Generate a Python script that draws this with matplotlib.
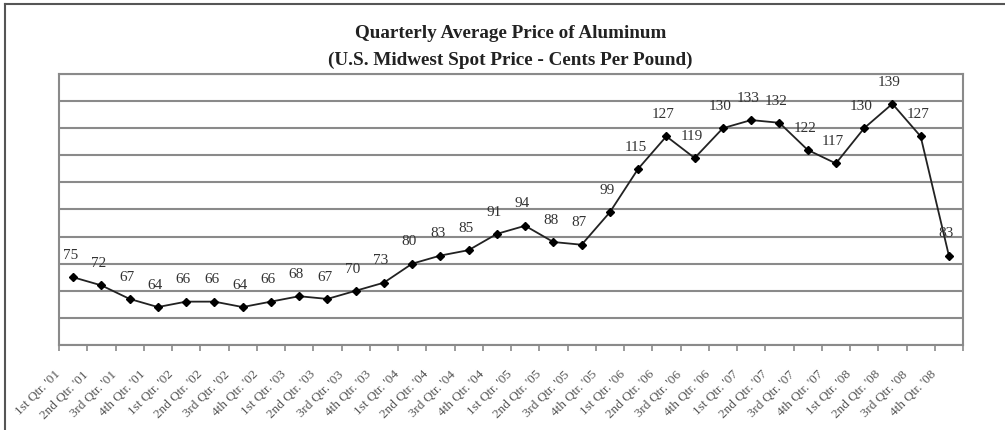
import numpy as np
import matplotlib.pyplot as plt
import matplotlib.transforms as mtransforms
from matplotlib.lines import Line2D

quarters = ['1st', '2nd', '3rd', '4th']
years = ['01', '02', '03', '04', '05', '06', '07', '08']
labels = ["%s Qtr. '%s" % (q, y) for y in years for q in quarters]
prices = [75, 72, 67, 64, 66, 66, 64, 66, 68, 67, 70, 73, 80, 83, 85, 91,
          94, 88, 87, 99, 115, 127, 119, 130, 133, 132, 122, 117, 130, 139, 127, 83]

plt.rcParams['font.family'] = ['Liberation Serif', 'DejaVu Serif']

fig = plt.figure(figsize=(10.05, 4.3), dpi=100)
ax = fig.add_axes([59 / 1005, 1 - 345 / 430, 904 / 1005, 271 / 430])

x = np.arange(len(prices))
ax.plot(x, prices, '-', color='#222222', lw=1.3, marker='D', ms=4.5,
        mfc='black', mec='black', zorder=3)
for xi, v in zip(x, prices):
    ax.annotate(str(v), (xi, v), xytext=(-2, 11), textcoords='offset points',
                ha='center', va='bottom', fontsize=11, color='#333333')

ax.set_xlim(-0.5, len(prices) - 0.5)
ax.set_ylim(50, 150)
ax.set_yticks(np.arange(50, 151, 10))
ax.set_yticklabels([])
ax.tick_params(axis='y', length=0)
ax.grid(axis='y', color='#8a8a8a', lw=1.5)
ax.set_axisbelow(True)

ax.set_xticks(x)
ax.set_xticklabels(labels, rotation=45, ha='right', va='top', fontsize=9.5,
                   color='#555555')
ax.set_xticks(np.arange(-0.5, len(prices), 1), minor=True)
ax.tick_params(axis='x', which='major', length=0, pad=17)
ax.tick_params(axis='x', which='minor', length=4, width=1.2, color='#8a8a8a',
               direction='out')
off = mtransforms.ScaledTranslation(-10 / 100, 0, fig.dpi_scale_trans)
for t in ax.get_xticklabels():
    t.set_transform(t.get_transform() + off)

for s in ax.spines.values():
    s.set_color('#8a8a8a')
    s.set_linewidth(1.5)

fig.text(0.508, 1 - 33 / 430, 'Quarterly Average Price of Aluminum', ha='center',
         va='center', fontsize=13.8, fontweight='bold', color='#222222')
fig.text(0.508, 1 - 60 / 430, '(U.S. Midwest Spot Price - Cents Per Pound)',
         ha='center', va='center', fontsize=13.8, fontweight='bold',
         color='#222222')

# outer frame (top and left edges visible)
fig.add_artist(Line2D([5 / 1005, 1], [1 - 4 / 430, 1 - 4 / 430],
                      transform=fig.transFigure, color='#555555', lw=1.5))
fig.add_artist(Line2D([5 / 1005, 5 / 1005], [0, 1 - 4 / 430],
                      transform=fig.transFigure, color='#555555', lw=1.5))

fig.savefig('out.png', dpi=100)
